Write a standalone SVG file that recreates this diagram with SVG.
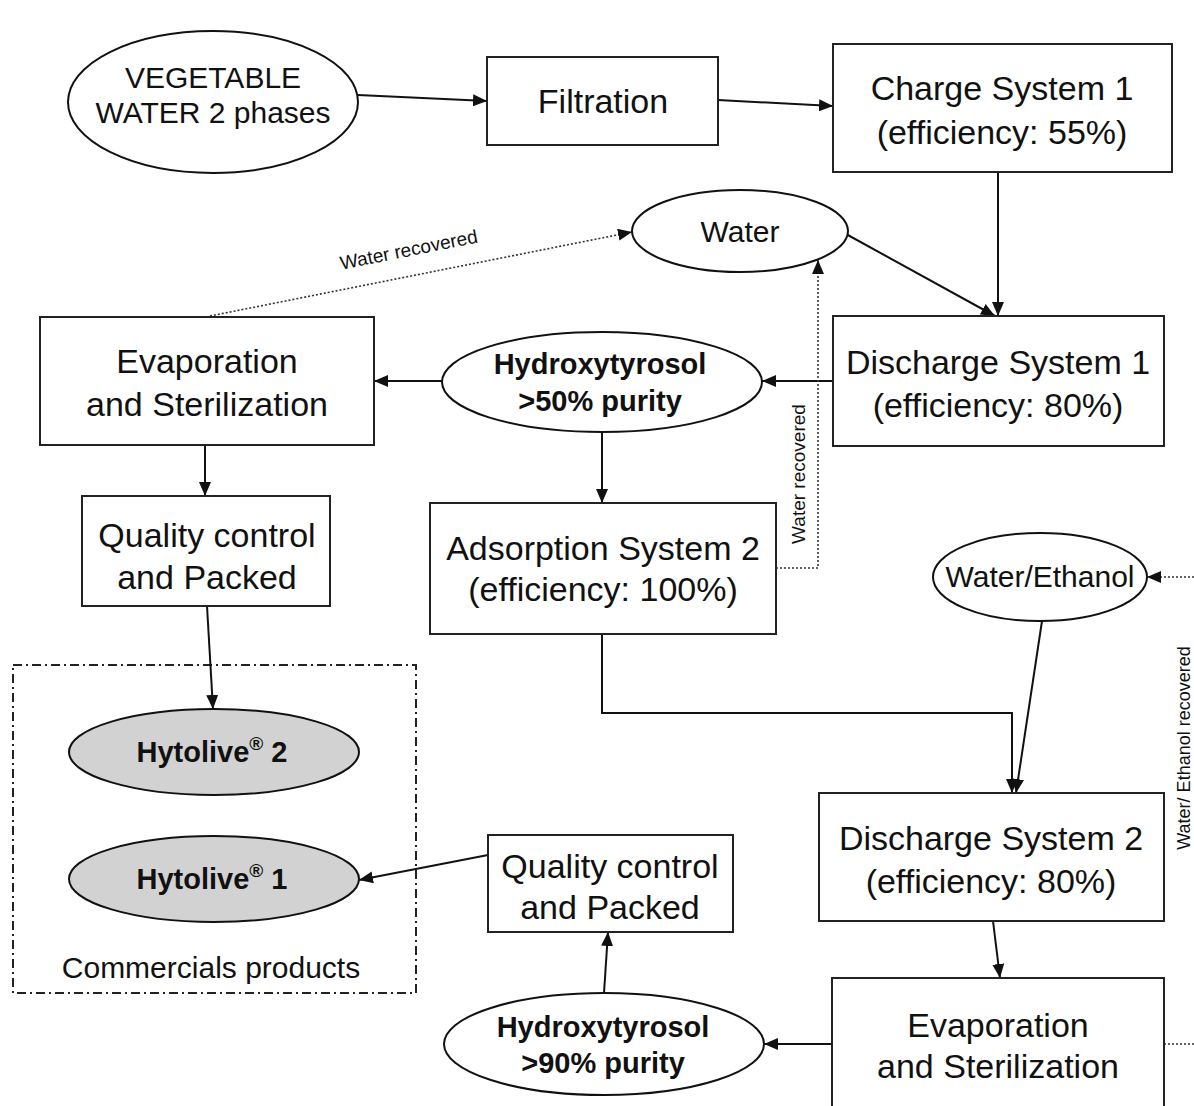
<svg xmlns="http://www.w3.org/2000/svg" width="1194" height="1106" viewBox="0 0 1194 1106">
<defs>
<marker id="ah" viewBox="0 0 14 12" refX="14" refY="6" markerWidth="14" markerHeight="12" markerUnits="userSpaceOnUse" orient="auto">
<path d="M0,0 L14,6 L0,12 z" fill="#111"/>
</marker>
<style>
.box{fill:#fff;stroke:#222;stroke-width:2}
.ell{fill:#fff;stroke:#111;stroke-width:2}
.prod{fill:#d2d2d2;stroke:#111;stroke-width:2}
.t{font-family:"Liberation Sans",Arial,sans-serif;font-size:34px;fill:#111;text-anchor:middle}
.te{font-family:"Liberation Sans",Arial,sans-serif;font-size:30px;fill:#111;text-anchor:middle}
.tb{font-family:"Liberation Sans",Arial,sans-serif;font-size:29px;font-weight:bold;fill:#111;text-anchor:middle}
.ts{font-family:"Liberation Sans",Arial,sans-serif;font-size:19px;fill:#111;text-anchor:middle}
.c{fill:none;stroke:#111;stroke-width:2}
.d{fill:none;stroke:#333;stroke-width:1.6;stroke-dasharray:2,2}
.grp{fill:none;stroke:#222;stroke-width:2;stroke-dasharray:9,4,2,4}
</style>
</defs>
<rect width="1194" height="1106" fill="#fff"/>

<g id="commercial-group">
<rect class="grp" x="13" y="665" width="403" height="328"/>
<text class="te" x="211" y="978">Commercials products</text>
</g>

<g id="connectors">
<line class="c" x1="358" y1="95" x2="487" y2="101" marker-end="url(#ah)"/>
<line class="c" x1="718" y1="100" x2="833" y2="106" marker-end="url(#ah)"/>
<line class="c" x1="998" y1="172" x2="998" y2="316" marker-end="url(#ah)"/>
<line class="c" x1="846" y1="234" x2="995" y2="316" marker-end="url(#ah)"/>
<line class="c" x1="833" y1="381" x2="762" y2="381" marker-end="url(#ah)"/>
<line class="c" x1="443" y1="381" x2="374" y2="381" marker-end="url(#ah)"/>
<line class="c" x1="205" y1="445" x2="205" y2="496" marker-end="url(#ah)"/>
<line class="c" x1="602" y1="432" x2="602" y2="503" marker-end="url(#ah)"/>
<line class="c" x1="207" y1="606" x2="213" y2="709" marker-end="url(#ah)"/>
<path class="c" d="M602,634 L602,713 L1012,713 L1012,793" marker-end="url(#ah)"/>
<line class="c" x1="1042" y1="621" x2="1016" y2="793" marker-end="url(#ah)"/>
<line class="c" x1="993" y1="921" x2="1000" y2="978" marker-end="url(#ah)"/>
<line class="c" x1="832" y1="1044" x2="764" y2="1044" marker-end="url(#ah)"/>
<line class="c" x1="604" y1="993" x2="608" y2="932" marker-end="url(#ah)"/>
<line class="c" x1="488" y1="855" x2="359" y2="880" marker-end="url(#ah)"/>
<line class="d" x1="210" y1="316" x2="632" y2="232" marker-end="url(#ah)"/>
<path class="d" d="M776,568 L818,568 L818,260" marker-end="url(#ah)"/>
<line class="d" x1="1194" y1="577" x2="1147" y2="577" marker-end="url(#ah)"/>
<line class="d" x1="1164" y1="1044" x2="1194" y2="1044"/>
<text class="ts" transform="translate(410,256) rotate(-11.3)">Water recovered</text>
<text class="ts" transform="translate(805,474) rotate(-90)">Water recovered</text>
<text class="ts" transform="translate(1190,748) rotate(-90)" style="font-size:18px">Water/ Ethanol recovered</text>
</g>

<g id="vegetable-water">
<ellipse class="ell" cx="213" cy="102" rx="145" ry="71"/>
<text class="te" x="213" y="88">VEGETABLE</text>
<text class="te" x="213" y="123">WATER 2 phases</text>
</g>

<g id="filtration">
<rect class="box" x="487" y="57" width="231" height="88"/>
<text class="t" x="603" y="113">Filtration</text>
</g>

<g id="charge-system-1">
<rect class="box" x="833" y="44" width="339" height="128"/>
<text class="t" x="1002" y="100">Charge System 1</text>
<text class="t" x="1002" y="144">(efficiency: 55%)</text>
</g>

<g id="water">
<ellipse class="ell" cx="740" cy="231" rx="108" ry="41"/>
<text class="te" x="740" y="242">Water</text>
</g>

<g id="discharge-system-1">
<rect class="box" x="833" y="316" width="331" height="130"/>
<text class="t" x="998" y="374">Discharge System 1</text>
<text class="t" x="998" y="417">(efficiency: 80%)</text>
</g>

<g id="hydroxytyrosol-50">
<ellipse class="ell" cx="602" cy="382" rx="160" ry="50"/>
<text class="tb" x="600" y="374">Hydroxytyrosol</text>
<text class="tb" x="600" y="411">&gt;50% purity</text>
</g>

<g id="evaporation-1">
<rect class="box" x="40" y="317" width="334" height="128"/>
<text class="t" x="207" y="373">Evaporation</text>
<text class="t" x="207" y="416">and Sterilization</text>
</g>

<g id="quality-control-1">
<rect class="box" x="82" y="496" width="248" height="110"/>
<text class="t" x="207" y="547">Quality control</text>
<text class="t" x="207" y="589">and Packed</text>
</g>

<g id="adsorption-system-2">
<rect class="box" x="430" y="503" width="346" height="131"/>
<text class="t" x="603" y="560">Adsorption System 2</text>
<text class="t" x="603" y="601">(efficiency: 100%)</text>
</g>

<g id="water-ethanol">
<ellipse class="ell" cx="1040" cy="577" rx="107" ry="44"/>
<text class="te" x="1040" y="587">Water/Ethanol</text>
</g>

<g id="hytolive-2">
<ellipse class="prod" cx="214" cy="752" rx="145" ry="43"/>
<text class="tb" x="212" y="762">Hytolive<tspan font-size="19" dy="-12">®</tspan><tspan dy="12"> 2</tspan></text>
</g>

<g id="hytolive-1">
<ellipse class="prod" cx="214" cy="879" rx="145" ry="43"/>
<text class="tb" x="212" y="889">Hytolive<tspan font-size="19" dy="-12">®</tspan><tspan dy="12"> 1</tspan></text>
</g>

<g id="discharge-system-2">
<rect class="box" x="819" y="793" width="345" height="128"/>
<text class="t" x="991" y="850">Discharge System 2</text>
<text class="t" x="991" y="893">(efficiency: 80%)</text>
</g>

<g id="quality-control-2">
<rect class="box" x="488" y="835" width="245" height="97"/>
<text class="t" x="610" y="878">Quality control</text>
<text class="t" x="610" y="919">and Packed</text>
</g>

<g id="evaporation-2">
<rect class="box" x="832" y="978" width="332" height="140"/>
<text class="t" x="998" y="1037">Evaporation</text>
<text class="t" x="998" y="1078">and Sterilization</text>
</g>

<g id="hydroxytyrosol-90">
<ellipse class="ell" cx="604" cy="1044" rx="160" ry="51"/>
<text class="tb" x="603" y="1037">Hydroxytyrosol</text>
<text class="tb" x="603" y="1073">&gt;90% purity</text>
</g>
</svg>
